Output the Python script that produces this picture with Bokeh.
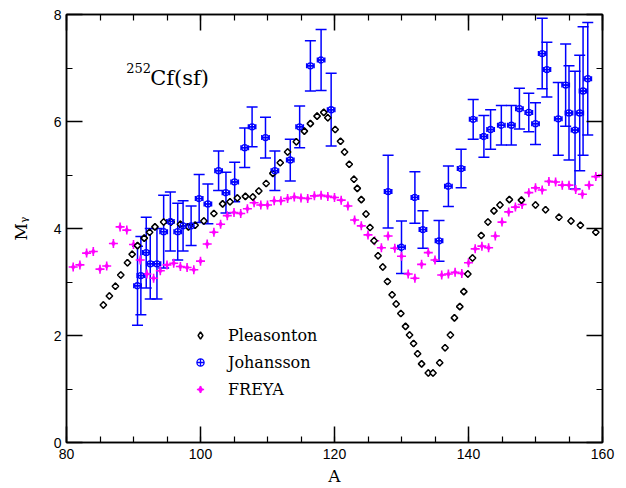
from bokeh.plotting import figure
from bokeh.models import (ColumnDataSource, Whisker, TeeHead, LinearAxis, SingleIntervalTicker,
                          Legend, LegendItem, Label, Range1d, CustomJSTickFormatter)
from bokeh.embed import file_html
from bokeh.resources import INLINE

# ---------------- data ----------------
ple_A = [85.5, 86.4, 87.3, 88.1, 89.1, 89.8, 90.6, 91.6, 92.4, 93.2,
         94.5, 95.6, 97.0, 98.2, 99.2, 100.5, 102.0, 103.3, 104.4, 105.5,
         106.7, 107.8, 108.7, 109.8, 110.8, 111.9, 113.0, 114.3, 115.5, 116.4,
         117.4, 118.4, 119.0, 120.1, 120.9, 121.5, 122.2, 122.9, 123.4, 124.0,
         124.7, 125.3, 125.9, 126.5, 127.2, 127.9, 128.6, 129.2, 129.9, 130.6,
         131.2, 131.8, 132.4, 133.0, 134.0, 134.7, 135.7, 136.5, 137.3, 137.9,
         138.7, 139.3, 139.9, 140.6, 141.9, 142.9, 143.8, 144.7, 146.1, 147.9,
         150.0, 151.5, 153.5, 155.3, 156.7, 159.0]
ple_M = [2.57, 2.74, 2.92, 3.13, 3.36, 3.52, 3.68, 3.82, 3.93, 4.03,
         4.12, 4.12, 4.08, 4.03, 4.06, 4.14, 4.28, 4.46, 4.50, 4.57,
         4.60, 4.59, 4.70, 4.84, 5.03, 5.23, 5.43, 5.62, 5.82, 5.96,
         6.10, 6.17, 6.07, 5.85, 5.63, 5.43, 5.20, 4.92, 4.75, 4.54,
         4.27, 4.02, 3.77, 3.49, 3.28, 3.01, 2.76, 2.59, 2.41, 2.17,
         2.01, 1.85, 1.66, 1.47, 1.30, 1.30, 1.49, 1.77, 2.01, 2.33,
         2.54, 2.82, 3.15, 3.45, 3.87, 4.12, 4.33, 4.44, 4.54, 4.53,
         4.44, 4.35, 4.21, 4.14, 4.06, 3.93]

joh_A = [90.6, 91.1, 91.9, 92.5, 93.5, 94.5, 95.5, 96.6, 97.4, 98.6,
         99.8, 101.1, 102.7, 103.8, 105.1, 106.6, 107.7, 109.7, 111.1, 113.4,
         114.8, 116.4, 118.0, 119.5, 128.0, 130.0, 132.0, 133.2, 135.6, 137.0,
         138.9, 140.7, 142.3, 143.3, 144.9, 146.4, 147.6, 149.0, 150.0, 151.0,
         151.7, 153.4, 154.5, 155.0, 155.9, 156.6, 157.1, 157.8]
joh_M = [2.93, 3.12, 3.55, 3.34, 3.34, 3.94, 4.13, 3.94, 4.05, 4.05,
         4.56, 4.46, 5.08, 4.67, 4.87, 5.51, 5.90, 5.70, 5.08, 5.28,
         5.90, 7.04, 7.15, 6.22, 4.69, 3.65, 4.58, 3.98, 3.77, 4.79,
         5.12, 6.04, 5.72, 5.85, 5.93, 5.93, 6.24, 6.17, 5.96, 7.27,
         6.97, 6.05, 6.68, 6.16, 5.84, 6.16, 6.57, 6.80]
joh_err = [0.74, 0.73, 0.66, 0.66, 0.66, 0.68, 0.55, 0.53, 0.47, 0.37,
           0.45, 0.37, 0.37, 0.38, 0.37, 0.37, 0.37, 0.38, 0.37, 0.39,
           0.39, 0.47, 0.57, 0.68, 0.68, 0.49, 0.48, 0.35, 0.38, 0.38,
           0.36, 0.37, 0.39, 0.37, 0.37, 0.37, 0.38, 0.36, 0.39, 0.66,
           0.51, 0.68, 0.77, 0.88, 1.10, 1.08, 1.20, 1.05]
joh_Aerr = 0.55

frey_A = list(range(81, 161))
frey_M = [3.28, 3.32, 3.54, 3.57, 3.24, 3.30, 3.72, 4.03, 3.97, 3.70,
          3.41, 3.15, 3.07, 3.21, 3.32, 3.35, 3.29, 3.27, 3.23, 3.39,
          3.71, 3.93, 4.08, 4.24, 4.30, 4.28, 4.37, 4.48, 4.44, 4.44,
          4.52, 4.52, 4.56, 4.59, 4.57, 4.56, 4.61, 4.62, 4.60, 4.58,
          4.53, 4.42, 4.16, 4.05, 3.88, 3.77, 3.64, 3.86, 3.63, 3.48,
          3.15, 3.07, 3.33, 3.55, 3.41, 3.13, 3.15, 3.18, 3.16, 3.36,
          3.62, 3.67, 3.64, 3.86, 4.12, 4.31, 4.40, 4.45, 4.67, 4.76,
          4.72, 4.88, 4.87, 4.81, 4.81, 4.73, 4.64, 4.81, 4.97, 5.00]

BLUE = "#0000ff"
MAGENTA = "#ff00ff"

# ---------------- figure ----------------
p = figure(width=626, height=488, x_range=Range1d(80, 160), y_range=Range1d(0, 8),
           output_backend="svg", toolbar_location=None,
           min_border_left=66, min_border_right=24, min_border_top=14, min_border_bottom=45)
p.xgrid.visible = False
p.ygrid.visible = False
p.outline_line_color = "black"
p.outline_line_width = 1.5
p.background_fill_color = "white"
p.border_fill_color = "white"

xt = SingleIntervalTicker(interval=20, num_minor_ticks=4)
yt = SingleIntervalTicker(interval=2, num_minor_ticks=2)


def style(ax):
    ax.major_tick_in = 16
    ax.major_tick_out = 0
    ax.minor_tick_in = 6
    ax.minor_tick_out = 0
    ax.axis_line_color = "black"
    ax.axis_line_width = 1.5
    ax.major_tick_line_width = 1.5
    ax.minor_tick_line_width = 1.2
    ax.major_tick_line_color = "black"
    ax.minor_tick_line_color = "black"


xa = p.xaxis[0]
ya = p.yaxis[0]
xa.ticker = xt
ya.ticker = yt
style(xa)
style(ya)
for ax in (xa, ya):
    ax.major_label_text_font = "Liberation Sans"
    ax.major_label_text_font_size = "14px"
    ax.major_label_text_color = "black"
    ax.axis_label_text_font = "DejaVu Serif"
    ax.axis_label_text_font_style = "normal"
    ax.axis_label_text_font_size = "17px"
    ax.axis_label_text_color = "black"
xa.major_label_standoff = 6
ya.major_label_standoff = 5
xa.axis_label = "A"
xa.axis_label_standoff = 4
ya.axis_label = "Mᵧ"
ya.axis_label_standoff = 20

blank = CustomJSTickFormatter(code="return ''")
top = LinearAxis(ticker=xt, formatter=blank, major_label_standoff=0)
right = LinearAxis(ticker=yt, formatter=blank, major_label_standoff=0)
style(top)
style(right)
p.add_layout(top, "above")
p.add_layout(right, "right")

# ---------------- FREYA ----------------
fsrc = ColumnDataSource(dict(A=frey_A, M=frey_M))
r_fc = p.scatter("A", "M", source=fsrc, marker="cross", size=9, line_color=MAGENTA, line_width=1.6)
r_fd = p.scatter("A", "M", source=fsrc, marker="diamond", size=6, fill_color=MAGENTA,
                 line_color=MAGENTA, line_width=0.5)

# ---------------- Pleasonton ----------------
psrc = ColumnDataSource(dict(A=ple_A, M=ple_M))
# narrow diamond hidden beneath the rotated squares; it supplies the legend symbol
r_ple_leg = p.scatter("A", "M", source=psrc, marker="diamond", size=6,
                      fill_color="white", line_color="black", line_width=1.5)
r_ple = p.scatter("A", "M", source=psrc, marker="square", angle=0.785398, size=4.6,
                  fill_color="white", line_color="black", line_width=1.5)

# ---------------- Johansson ----------------
jsrc = ColumnDataSource(dict(
    A=joh_A, M=joh_M,
    lo=[m - e for m, e in zip(joh_M, joh_err)],
    hi=[m + e for m, e in zip(joh_M, joh_err)],
    xl=[a - joh_Aerr for a in joh_A],
    xr=[a + joh_Aerr for a in joh_A],
))
vw = Whisker(source=jsrc, base="A", lower="lo", upper="hi", dimension="height",
             line_color=BLUE, line_width=1.5,
             lower_head=TeeHead(size=11, line_color=BLUE, line_width=1.5),
             upper_head=TeeHead(size=11, line_color=BLUE, line_width=1.5))
hw = Whisker(source=jsrc, base="M", lower="xl", upper="xr", dimension="width",
             line_color=BLUE, line_width=1.5,
             lower_head=TeeHead(size=5, line_color=BLUE, line_width=1.5),
             upper_head=TeeHead(size=5, line_color=BLUE, line_width=1.5))
p.add_layout(vw)
p.add_layout(hw)
r_joh = p.scatter("A", "M", source=jsrc, marker="circle_cross", size=6,
                  fill_color=None, line_color=BLUE, line_width=1.3)

# ---------------- legend ----------------
legend = Legend(items=[LegendItem(label="Pleasonton", renderers=[r_ple_leg]),
                       LegendItem(label="Johansson", renderers=[r_joh]),
                       LegendItem(label="FREYA", renderers=[r_fc, r_fd])],
                location=(125, 43), orientation="vertical",
                padding=0, margin=0, spacing=7, glyph_width=18, glyph_height=20,
                label_height=20, label_standoff=19,
                label_text_font="DejaVu Serif", label_text_font_size="16px",
                label_text_color="black",
                border_line_color=None, background_fill_alpha=0)
p.add_layout(legend)

# ---------------- annotation ----------------
p.add_layout(Label(x=88.9, y=7.0, text="252", text_font="DejaVu Serif",
                   text_font_size="13px", text_color="black", text_baseline="alphabetic"))
p.add_layout(Label(x=92.5, y=6.82, text="Cf(sf)", text_font="DejaVu Serif",
                   text_font_size="21px", text_color="black", text_baseline="alphabetic"))

open("out.html", "w").write(file_html(p, INLINE))
